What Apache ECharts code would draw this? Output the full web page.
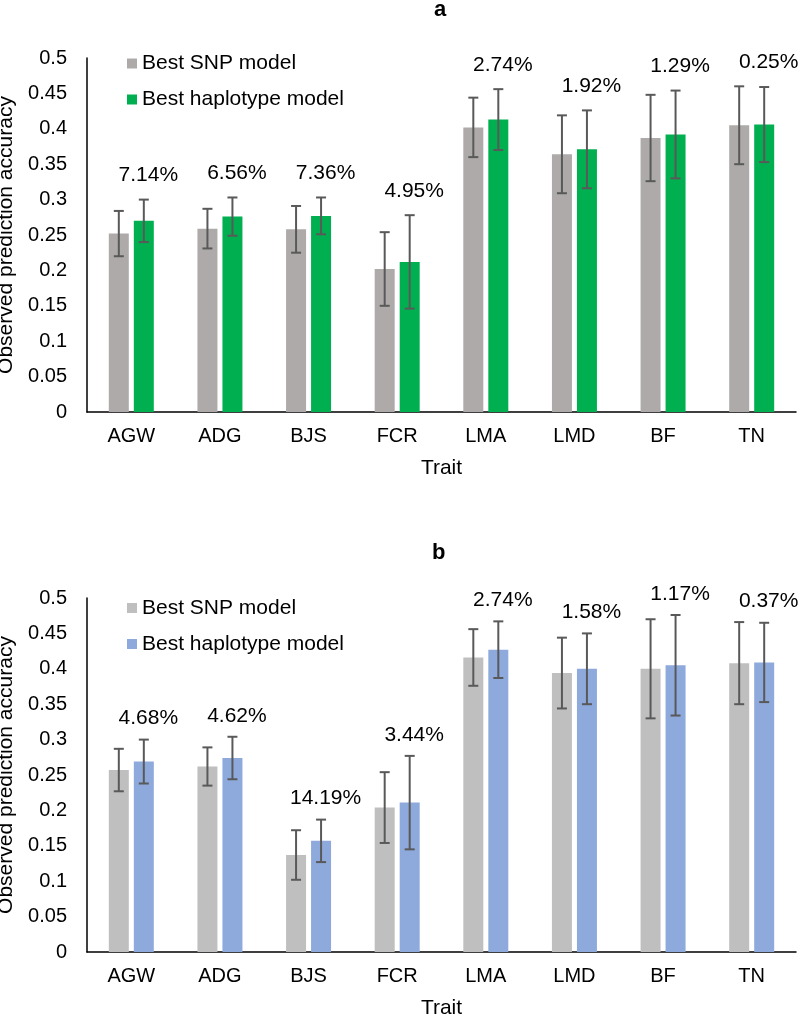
<!DOCTYPE html>
<html>
<head>
<meta charset="utf-8">
<script src="https://cdn.jsdelivr.net/npm/echarts@6/dist/echarts.min.js"></script>
<style>
html,body{margin:0;padding:0;background:#fff;}
#chart{width:798px;height:1016px;}
</style>
</head>
<body>
<div id="chart"></div>
<script>
// ---------- data ----------
const traits = ['AGW', 'ADG', 'BJS', 'FCR', 'LMA', 'LMD', 'BF', 'TN'];

// panel a
const snpA    = [0.252, 0.259, 0.258, 0.202, 0.402, 0.364, 0.387, 0.405];
const hapA    = [0.270, 0.276, 0.277, 0.212, 0.413, 0.371, 0.392, 0.406];
const snpErrA = [0.032, 0.028, 0.033, 0.052, 0.042, 0.055, 0.061, 0.055];
const hapErrA = [0.030, 0.027, 0.026, 0.066, 0.043, 0.055, 0.062, 0.053];
const pctA    = ['7.14%', '6.56%', '7.36%', '4.95%', '2.74%', '1.92%', '1.29%', '0.25%'];

// panel b
const snpB    = [0.257, 0.262, 0.137, 0.204, 0.416, 0.394, 0.400, 0.408];
const hapB    = [0.269, 0.274, 0.157, 0.211, 0.427, 0.400, 0.405, 0.409];
const snpErrB = [0.030, 0.027, 0.035, 0.050, 0.040, 0.050, 0.070, 0.058];
const hapErrB = [0.031, 0.030, 0.030, 0.066, 0.040, 0.050, 0.071, 0.056];
const pctB    = ['4.68%', '4.62%', '14.19%', '3.44%', '2.74%', '1.58%', '1.17%', '0.37%'];

const seriesNames = ['Best SNP model', 'Best haplotype model'];
const yAxisTitle = 'Observed prediction accuracy';
const xAxisTitle = 'Trait';
const panelTitles = ['a', 'b'];

// ---------- styles ----------
const FONT = '"Liberation Sans", Arial, Helvetica, sans-serif';
const colorsA = ['#AEAAAA', '#00B050'];
const colorsB = ['#BFBFBF', '#8EA9DB'];
const ERR_COLOR = '#595959';
const BAR_W = 20;
const BAR_OFF = 12.5; // half of (bar width + gap)

function errRender(offset) {
  return function (params, api) {
    const x = api.value(0), v = api.value(1), e = api.value(2);
    const top = api.coord([x, v + e]);
    const bot = api.coord([x, v - e]);
    const cx = top[0] + offset;
    const cap = 5;
    const st = { stroke: ERR_COLOR, lineWidth: 2 };
    return {
      type: 'group',
      children: [
        { type: 'line', shape: { x1: cx, y1: top[1], x2: cx, y2: bot[1] }, style: st },
        { type: 'line', shape: { x1: cx - cap, y1: top[1], x2: cx + cap, y2: top[1] }, style: st },
        { type: 'line', shape: { x1: cx - cap, y1: bot[1], x2: cx + cap, y2: bot[1] }, style: st }
      ]
    };
  };
}

function labelRender(texts, dy) {
  return function (params, api) {
    const p = api.coord([api.value(0), api.value(1)]);
    return {
      type: 'text',
      x: p[0] + 17,
      y: p[1] - dy,
      style: {
        text: texts[params.dataIndex],
        fill: '#000',
        fontSize: 21,
        fontFamily: FONT,
        align: 'center',
        verticalAlign: 'middle'
      }
    };
  };
}

function panelSeries(idx, snp, hap, snpErr, hapErr, pct, colors, dy) {
  const errSnp = traits.map((t, i) => [i, snp[i], snpErr[i]]);
  const errHap = traits.map((t, i) => [i, hap[i], hapErr[i]]);
  const lab = traits.map((t, i) => [i, Math.max(snp[i] + snpErr[i], hap[i] + hapErr[i])]);
  return [
    { name: seriesNames[0], type: 'bar', xAxisIndex: idx, yAxisIndex: idx, data: snp,
      barWidth: BAR_W, barGap: '25%', itemStyle: { color: colors[0] } },
    { name: seriesNames[1], type: 'bar', xAxisIndex: idx, yAxisIndex: idx, data: hap,
      barWidth: BAR_W, barGap: '25%', itemStyle: { color: colors[1] } },
    { type: 'custom', xAxisIndex: idx, yAxisIndex: idx, data: errSnp, z: 5,
      renderItem: errRender(-BAR_OFF), encode: { x: 0, y: 1 }, silent: true },
    { type: 'custom', xAxisIndex: idx, yAxisIndex: idx, data: errHap, z: 5,
      renderItem: errRender(BAR_OFF), encode: { x: 0, y: 1 }, silent: true },
    { type: 'custom', xAxisIndex: idx, yAxisIndex: idx, data: lab, z: 6, clip: false,
      renderItem: labelRender(pct, dy), encode: { x: 0, y: 1 }, silent: true }
  ];
}

function xAxisCfg(idx) {
  return {
    type: 'category', gridIndex: idx, data: traits,
    axisLine: { lineStyle: { color: '#000', width: 1.5 } },
    axisTick: { show: false },
    axisLabel: { color: '#000', fontSize: 20, fontFamily: FONT, margin: 14 },
    name: xAxisTitle, nameLocation: 'middle', nameGap: 46,
    nameTextStyle: { color: '#000', fontSize: 21, fontFamily: FONT }
  };
}
function yAxisCfg(idx) {
  return {
    type: 'value', gridIndex: idx, min: 0, max: 0.5, interval: 0.05,
    axisLine: { show: true, lineStyle: { color: '#000', width: 1.5 } },
    axisTick: { show: false },
    splitLine: { show: false },
    axisLabel: { color: '#000', fontSize: 20, fontFamily: FONT, margin: 20 },
    name: yAxisTitle, nameLocation: 'middle', nameGap: 62,
    nameTextStyle: { color: '#000', fontSize: 21, fontFamily: FONT }
  };
}
function legendCfg(top, colors) {
  return {
    orient: 'vertical', left: 127, top: top, padding: 0,
    itemWidth: 10, itemHeight: 10, itemGap: 15, icon: 'rect',
    selectedMode: false,
    textStyle: { color: '#000', fontSize: 21, fontFamily: FONT, lineHeight: 20 },
    data: [
      { name: seriesNames[0], itemStyle: { color: colors[0] } },
      { name: seriesNames[1], itemStyle: { color: colors[1] } }
    ]
  };
}

const chart = echarts.init(document.getElementById('chart'), null, { renderer: 'canvas' });
chart.setOption({
  backgroundColor: '#fff',
  animation: false,
  title: [
    { text: panelTitles[0], left: 429, top: -6,
      textStyle: { fontSize: 22, fontWeight: 'bold', color: '#000', fontFamily: FONT } },
    { text: panelTitles[1], left: 427, top: 537,
      textStyle: { fontSize: 22, fontWeight: 'bold', color: '#000', fontFamily: FONT } }
  ],
  legend: [legendCfg(53, colorsA), legendCfg(597.5, colorsB)],
  grid: [
    { left: 87, top: 58, width: 709, height: 354, outerBoundsMode: 'none', containLabel: false },
    { left: 87, top: 598, width: 709, height: 354, outerBoundsMode: 'none', containLabel: false }
  ],
  xAxis: [xAxisCfg(0), xAxisCfg(1)],
  yAxis: [yAxisCfg(0), yAxisCfg(1)],
  series: [].concat(
    panelSeries(0, snpA, hapA, snpErrA, hapErrA, pctA, colorsA, 24),
    panelSeries(1, snpB, hapB, snpErrB, hapErrB, pctB, colorsB, 21)
  )
});
</script>
</body>
</html>
